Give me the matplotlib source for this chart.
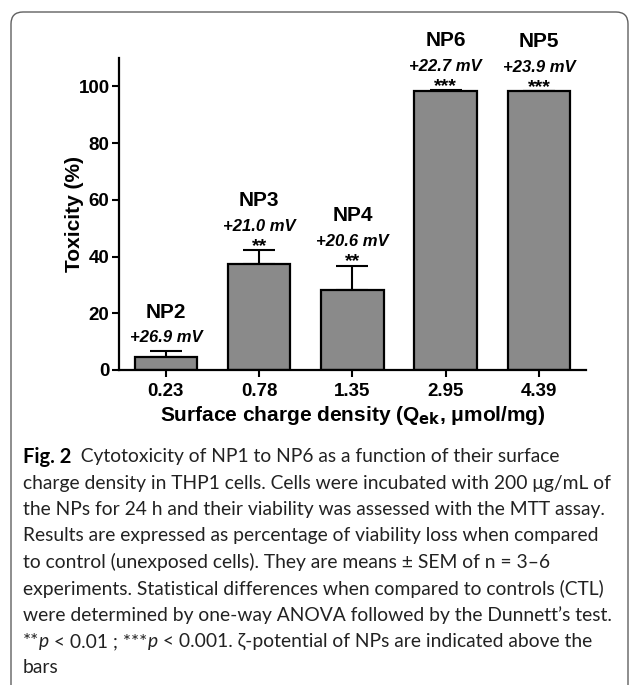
import numpy as np
import matplotlib
matplotlib.use("Agg")
import matplotlib.pyplot as plt
from matplotlib import font_manager
from matplotlib.patches import FancyBboxPatch
from matplotlib.transforms import IdentityTransform

# data
charge = ["0.23", "0.78", "1.35", "2.95", "4.39"]
names = ["NP2", "NP3", "NP4", "NP6", "NP5"]
zeta = ["+26.9 mV", "+21.0 mV", "+20.6 mV", "+22.7 mV", "+23.9 mV"]
stars = ["", "**", "**", "***", "***"]
tox = [4.5, 37.2, 28.3, 98.5, 98.2]
sem = [2.3, 5.0, 8.4, 0.1, 0.1]

W, H = 629, 685
fig = plt.figure(figsize=(W / 100, H / 100), dpi=100)
ax = fig.add_axes([119.3 / W, 1 - 370 / H, (585.6 - 119.3) / W, (370 - 58) / H])

arial = "Liberation Sans"
x = np.arange(len(charge))
ax.bar(x, tox, width=0.67, color="#8a8a8a", edgecolor="black", linewidth=1.6, zorder=2)
ax.errorbar(x, tox, yerr=[np.zeros(len(sem)), sem], fmt="none", ecolor="black",
            elinewidth=1.5, capsize=11.5, capthick=1.5, zorder=1)

ax.set_xlim(-0.5, 4.5)
ax.set_ylim(0, 110)
ax.set_yticks([0, 20, 40, 60, 80, 100])
ax.set_xticks(x)
ax.set_xticklabels(charge)
for s in ["top", "right"]:
    ax.spines[s].set_visible(False)
for s in ["left", "bottom"]:
    ax.spines[s].set_linewidth(1.6)
ax.tick_params(axis="both", direction="out", length=5, width=1.5, pad=2)
ax.tick_params(axis="x", pad=4)
for lab in ax.get_xticklabels() + ax.get_yticklabels():
    lab.set_fontfamily(arial)
    lab.set_fontweight("bold")
    lab.set_fontsize(13.5)
ax.set_ylabel("Toxicity (%)", fontfamily=arial, fontweight="bold", fontsize=15)
ax.set_xlabel("Surface charge density (Q$_{\\mathbf{ek}}$, μmol/mg)", fontfamily=arial,
              fontweight="bold", fontsize=15)
ax.yaxis.set_label_coords(-0.076, 0.5)
ax.xaxis.set_label_coords(0.5, -0.11)

# annotations above bars
for i in range(len(names)):
    top = tox[i] + sem[i]
    if stars[i]:
        ax.text(x[i], top - 0.2, stars[i], ha="center", va="baseline", fontfamily=arial,
                fontweight="bold", fontsize=14)
        base = top + 6.9
    else:
        base = top + 2.9
    ax.text(x[i], base, zeta[i], ha="center", va="baseline", fontfamily=arial,
            fontweight="bold", fontstyle="italic", fontsize=12)
    ax.text(x[i], base + 8.8, names[i], ha="center", va="baseline", fontfamily=arial,
            fontweight="bold", fontsize=15)

# frame around figure
frame = FancyBboxPatch((11, -40), 617, H - 12 + 40, boxstyle="round,pad=0,rounding_size=12",
                       transform=IdentityTransform(), fill=False, edgecolor="#606060",
                       linewidth=1.0)
fig.patches.append(frame)

# caption
avail = {f.name for f in font_manager.fontManager.ttflist}
cap_font = "Liberation Sans Narrow" if "Liberation Sans Narrow" in avail else "Lato"

renderer = fig.canvas.get_renderer()
probe = fig.text(0, 0, "charge density in THP1 cells. Cells were incubated with 200 μg/mL of",
                 fontfamily=cap_font, fontsize=10)
wpx = probe.get_window_extent(renderer).width
probe.remove()
cap_size = 10 * 587 / wpx

lines = [
    [("Fig. 2", "bold", "normal"), ("  Cytotoxicity of NP1 to NP6 as a function of their surface", "normal", "normal")],
    [("charge density in THP1 cells. Cells were incubated with 200 μg/mL of", "normal", "normal")],
    [("the NPs for 24 h and their viability was assessed with the MTT assay.", "normal", "normal")],
    [("Results are expressed as percentage of viability loss when compared", "normal", "normal")],
    [("to control (unexposed cells). They are means ± SEM of n = 3–6", "normal", "normal")],
    [("experiments. Statistical differences when compared to controls (CTL)", "normal", "normal")],
    [("were determined by one-way ANOVA followed by the Dunnett’s test.", "normal", "normal")],
    [("**", "normal", "normal"), ("p", "normal", "italic"), (" < 0.01 ; ***", "normal", "normal"),
     ("p", "normal", "italic"), (" < 0.001. ζ-potential of NPs are indicated above the", "normal", "normal")],
    [("bars", "normal", "normal")],
]

for k, segs in enumerate(lines):
    ypx = 456.7 + 26.4 * k
    xpx = 23
    for txt, wt, st in segs:
        t = fig.text(xpx / W, 1 - ypx / H, txt, fontfamily=[cap_font, "DejaVu Sans"],
                     fontweight=wt, fontstyle=st, fontsize=cap_size if wt == "normal" else cap_size * 1.05,
                     va="center", ha="left", color="#222222" if wt == "normal" else "black")
        xpx += t.get_window_extent(renderer).width

fig.savefig("out.png", dpi=100)
